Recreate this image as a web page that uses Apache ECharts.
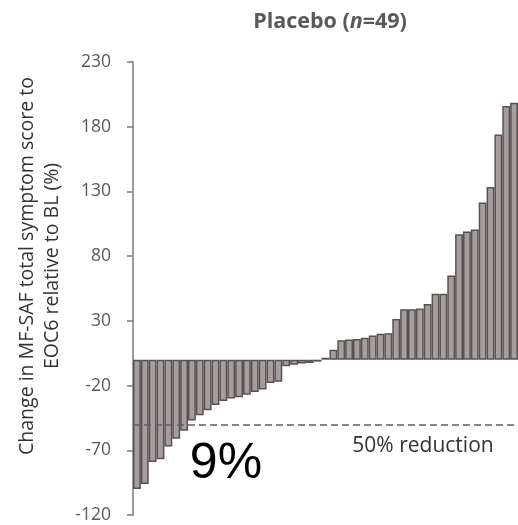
<!DOCTYPE html>
<html>
<head>
<meta charset="utf-8">
<script src="https://cdn.jsdelivr.net/npm/echarts@6/dist/echarts.min.js"></script>
<style>html,body{margin:0;padding:0;background:#fff}#c{width:518px;height:525px}</style>
</head>
<body>
<div id="c"></div>
<script>
// Patient-level % change, sorted (waterfall)
var patients = [];
for (var i = 1; i <= 49; i++) patients.push('P' + i);
var changeValues = [
  -100, -96, -79, -77, -67, -61, -55, -47, -43, -39,
  -35, -32, -30, -29, -27, -25, -23, -18, -17, -5,
  -4, -3, -2.5, -1.5, 1.5, 7.6, 15, 15.5, 16, 17,
  18.6, 20, 20.5, 31.5, 39, 39, 39.5, 43, 51, 51,
  65, 97, 99, 100.5, 121.5, 133.5, 174, 196, 198.5
];
var yTicks = { min: -120, max: 230, interval: 50 };
var reductionThreshold = -50;
var titleText = ['Placebo (', 'n', '=49)'];
var yAxisTitle = ['Change in MF-SAF total symptom score to', 'EOC6 relative to BL (%)'];
var thresholdLabel = '50% reduction';
var responderLabel = '9%';

var chart = echarts.init(document.getElementById('c'), null, { renderer: 'canvas' });
var FONT = '"Open Sans", sans-serif';
chart.setOption({
  animation: false,
  backgroundColor: '#ffffff',
  grid: { left: 133, top: 62, width: 392, height: 453, containLabel: false },
  xAxis: {
    type: 'category',
    data: patients,
    show: false
  },
  yAxis: {
    type: 'value',
    min: yTicks.min,
    max: yTicks.max,
    interval: yTicks.interval,
    axisLine: { show: true, lineStyle: { color: '#7a7a7a', width: 1.5 } },
    axisTick: { show: true, inside: false, length: 6, lineStyle: { color: '#7a7a7a', width: 1.5 } },
    axisLabel: { margin: 22, color: '#595959', fontSize: 17.5, fontFamily: FONT },
    splitLine: { show: false }
  },
  series: [{
    type: 'bar',
    data: changeValues,
    barWidth: '100%',
    itemStyle: { color: '#a69d9e', borderColor: '#5a5151', borderWidth: 1.5 },
    markLine: {
      silent: true,
      symbol: ['none', 'none'],
      label: { show: false },
      lineStyle: { color: '#5f5f5f', type: [7, 4], width: 1.5 },
      data: [{ yAxis: reductionThreshold }]
    }
  }],
  graphic: [
    {
      type: 'text',
      x: 330, y: 22,
      style: {
        text: '{b|' + titleText[0] + '}{i|' + titleText[1] + '}{b|' + titleText[2] + '}',
        align: 'center', verticalAlign: 'middle',
        rich: {
          b: { fontFamily: FONT, fontWeight: 'bold', fontSize: 21.5, fill: '#595959' },
          i: { fontFamily: FONT, fontWeight: 'bold', fontStyle: 'italic', fontSize: 21.5, fill: '#595959' }
        }
      }
    },
    {
      type: 'text',
      x: 40, y: 266,
      rotation: Math.PI / 2,
      style: {
        text: yAxisTitle.join('\n'),
        align: 'center', verticalAlign: 'middle',
        fontFamily: FONT, fontSize: 19.5, lineHeight: 25, fill: '#333333'
      }
    },
    {
      type: 'text',
      x: 423, y: 446,
      style: {
        text: thresholdLabel,
        align: 'center', verticalAlign: 'middle',
        fontFamily: FONT, fontSize: 21, fill: '#333333'
      }
    },
    {
      type: 'text',
      x: 226, y: 464,
      style: {
        text: responderLabel,
        align: 'center', verticalAlign: 'middle',
        fontFamily: '"Liberation Sans", Arial, sans-serif', fontSize: 50, fill: '#000000'
      }
    }
  ]
});
</script>
</body>
</html>
